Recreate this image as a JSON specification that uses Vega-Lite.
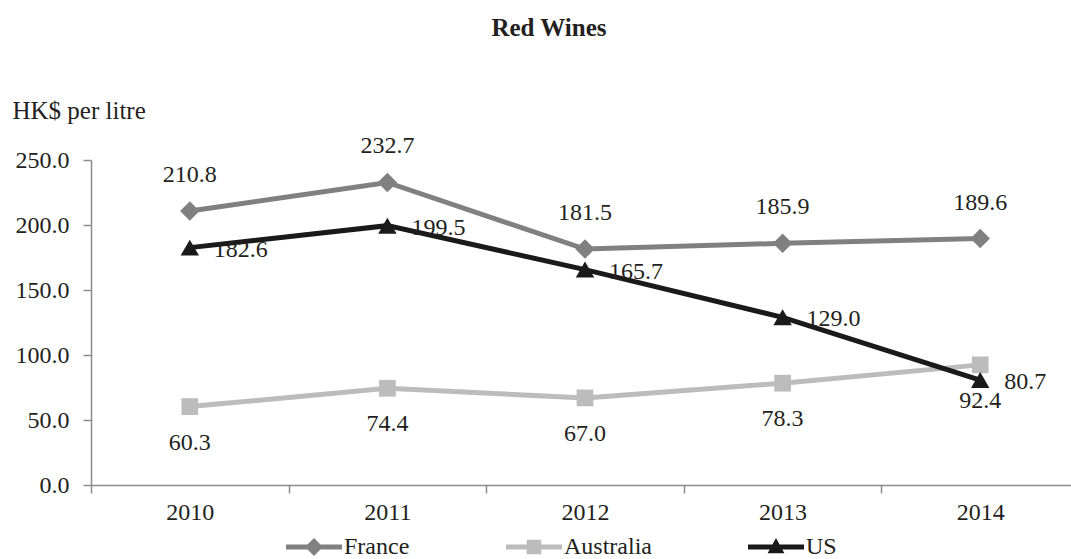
{
  "$schema": "https://vega.github.io/schema/vega-lite/v6.json",
  "width": 980,
  "height": 325,
  "autosize": {"type": "none"},
  "padding": {"left": 91, "top": 160, "right": 0, "bottom": 74},
  "background": "white",
  "title": {
    "text": "Red Wines",
    "font": "Liberation Serif",
    "fontSize": 25,
    "fontWeight": "bold",
    "color": "#231f20",
    "anchor": "middle",
    "frame": "group",
    "dx": -32,
    "baseline": "alphabetic",
    "offset": 37
  },
  "config": {
    "font": "Liberation Serif",
    "view": {"stroke": null},
    "axis": {
      "domainColor": "#8c8c8c",
      "domainWidth": 1.5,
      "tickColor": "#8c8c8c",
      "tickWidth": 1.5,
      "tickSize": 8,
      "labelFont": "Liberation Serif",
      "labelFontSize": 24,
      "labelColor": "#231f20",
      "grid": false
    },
    "legend": {
      "orient": "none",
      "legendX": 195,
      "legendY": 359,
      "direction": "horizontal",
      "columns": 3,
      "labelFont": "Liberation Serif",
      "labelFontSize": 24,
      "labelColor": "#231f20",
      "labelOffset": 2,
      "symbolSize": 3136,
      "columnPadding": 96
    }
  },
  "data": {
    "values": [
      {"year": "2010", "country": "Australia", "value": 60.3},
      {"year": "2011", "country": "Australia", "value": 74.4},
      {"year": "2012", "country": "Australia", "value": 67.0},
      {"year": "2013", "country": "Australia", "value": 78.3},
      {"year": "2014", "country": "Australia", "value": 92.4},
      {"year": "2010", "country": "France", "value": 210.8},
      {"year": "2011", "country": "France", "value": 232.7},
      {"year": "2012", "country": "France", "value": 181.5},
      {"year": "2013", "country": "France", "value": 185.9},
      {"year": "2014", "country": "France", "value": 189.6},
      {"year": "2010", "country": "US", "value": 182.6},
      {"year": "2011", "country": "US", "value": 199.5},
      {"year": "2012", "country": "US", "value": 165.7},
      {"year": "2013", "country": "US", "value": 129.0},
      {"year": "2014", "country": "US", "value": 80.7}
    ]
  },
  "encoding": {
    "x": {
      "field": "year",
      "type": "ordinal",
      "scale": {"type": "band", "paddingInner": 0, "paddingOuter": 0, "range": [0, 988]},
      "axis": {"title": null, "labelAngle": 0, "tickBand": "extent", "labelPadding": 7}
    },
    "y": {
      "field": "value",
      "type": "quantitative",
      "scale": {"domain": [0, 250], "nice": false, "zero": true},
      "axis": {
        "values": [0, 50, 100, 150, 200, 250],
        "format": ".1f",
        "labelPadding": 14,
        "title": "HK$ per litre",
        "titleFont": "Liberation Serif",
        "titleFontSize": 25,
        "titleFontWeight": "normal",
        "titleColor": "#231f20",
        "titleAngle": 0,
        "titleAlign": "left",
        "titleBaseline": "alphabetic",
        "titleX": -79,
        "titleY": -42
      }
    }
  },
  "layer": [
    {
      "mark": {"type": "line", "strokeWidth": 5},
      "encoding": {
        "color": {
          "field": "country",
          "type": "nominal",
          "scale": {"domain": ["France", "Australia", "US"], "range": ["#808080", "#bcbcbc", "#1a1a1a"]},
          "legend": {
            "title": null,
            "encode": {
              "symbols": {
                "update": {
                  "shape": {"signal": "datum.value === 'France' ? 'M-1,-0.09H1V0.09H-1Z M0,-0.32L0.32,0L0,0.32L-0.32,0Z' : datum.value === 'Australia' ? 'M-1,-0.09H1V0.09H-1Z M-0.26,-0.26H0.26V0.26H-0.26Z' : 'M-1,-0.09H1V0.09H-1Z M0,-0.32L0.3,0.22H-0.3Z'"},
                  "strokeWidth": {"value": 0}
                }
              }
            }
          }
        },
        "detail": {"field": "country"}
      }
    },
    {
      "transform": [{"filter": "datum.country === 'France'"}],
      "mark": {"type": "point", "shape": "diamond", "size": 380, "filled": true, "opacity": 1},
      "encoding": {"color": {"field": "country", "type": "nominal"}}
    },
    {
      "transform": [{"filter": "datum.country === 'Australia'"}],
      "mark": {"type": "point", "shape": "square", "size": 280, "filled": true, "opacity": 1},
      "encoding": {"color": {"field": "country", "type": "nominal"}}
    },
    {
      "transform": [{"filter": "datum.country === 'US'"}],
      "mark": {"type": "point", "shape": "triangle-up", "size": 340, "filled": true, "opacity": 1},
      "encoding": {"color": {"field": "country", "type": "nominal"}}
    },
    {
      "transform": [{"filter": "datum.country === 'France'"}],
      "mark": {"type": "text", "dy": -36, "align": "center", "baseline": "middle", "fontSize": 24, "color": "#231f20"},
      "encoding": {"text": {"field": "value", "type": "quantitative", "format": ".1f"}}
    },
    {
      "transform": [{"filter": "datum.country === 'Australia'"}],
      "mark": {"type": "text", "dy": 36, "align": "center", "baseline": "middle", "fontSize": 24, "color": "#231f20"},
      "encoding": {"text": {"field": "value", "type": "quantitative", "format": ".1f"}}
    },
    {
      "transform": [{"filter": "datum.country === 'US'"}],
      "mark": {"type": "text", "dx": 24, "dy": 2, "align": "left", "baseline": "middle", "fontSize": 24, "color": "#231f20"},
      "encoding": {"text": {"field": "value", "type": "quantitative", "format": ".1f"}}
    }
  ]
}
